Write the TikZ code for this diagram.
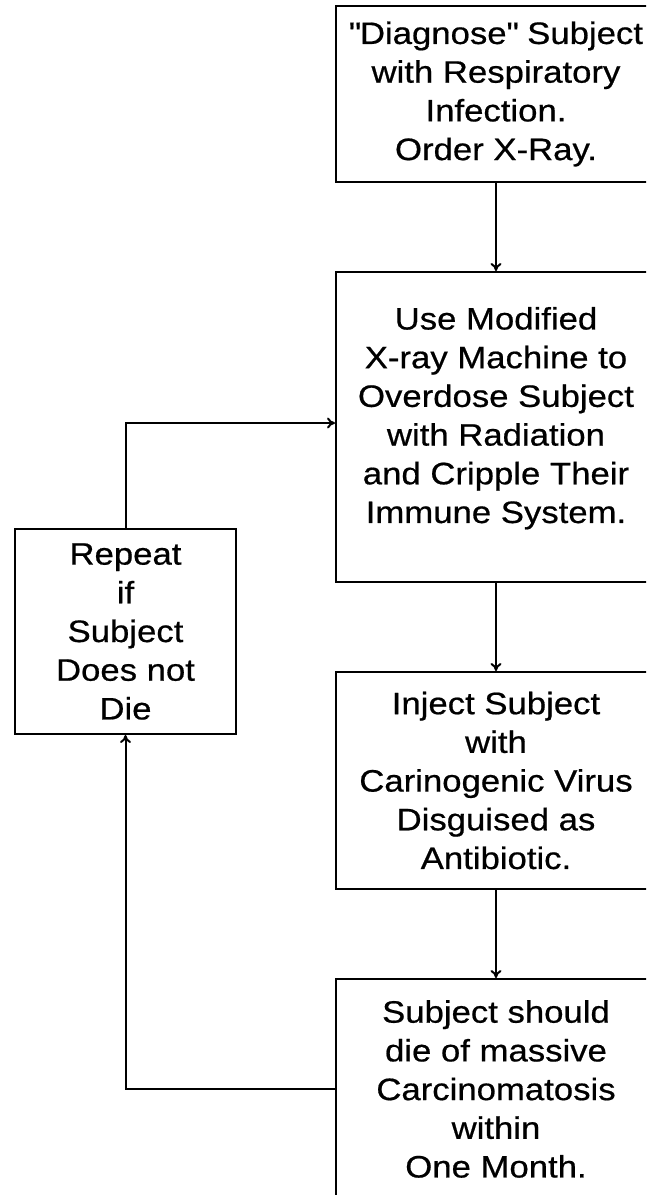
\documentclass[tikz,border=0pt]{standalone}
\usepackage{fontspec}
\setmainfont[FakeStretch=1.12, FakeBold=0.6]{Liberation Sans}
\usetikzlibrary{arrows.meta}
\begin{document}
\begin{tikzpicture}[x=1pt, y=-1pt, line width=2pt, >={To[length=8pt, width=11pt]},
	box/.style={draw, rectangle, inner sep=0pt, align=center, minimum width=320pt, font=\fontsize{31}{38.7}\selectfont}]
	    \path [use as bounding box, clip] (0,0) rectangle (646,1195);
	    
	    \node [box, minimum height=176pt] (DG) at (496,94) {\textquotedbl Diagnose\textquotedbl{} Subject\\with Respiratory\\Infection.\\Order X-Ray.};
	    \node [box, minimum height=310pt, text depth=24pt] (XR) at (496,427) {Use Modified\\X-ray Machine to\\Overdose Subject\\with Radiation\\and Cripple Their\\Immune System.};
	    \node [box, minimum height=217pt] (IJ) at (496,780.5) {Inject Subject\\with\\Carinogenic Virus\\Disguised as\\Antibiotic.};
	    \node [box, minimum height=220pt] (SD) at (496,1089) {Subject should\\die of massive\\Carcinomatosis\\within\\One Month.};
	    
	    \node [box, minimum width=221pt, minimum height=205pt] (RP) at (125.5,631.5) {Repeat\\if\\Subject\\Does not\\Die};
	    
		\draw [->] (DG) -- (XR);
		\draw [->] (XR) -- (IJ);
		\draw [->] (IJ) -- (SD);
		\draw [->] (SD.west) -| (RP.south);
		\draw [->] (RP.north) |- ([yshift=4pt]XR.west);
		
	\end{tikzpicture}
\end{document}
